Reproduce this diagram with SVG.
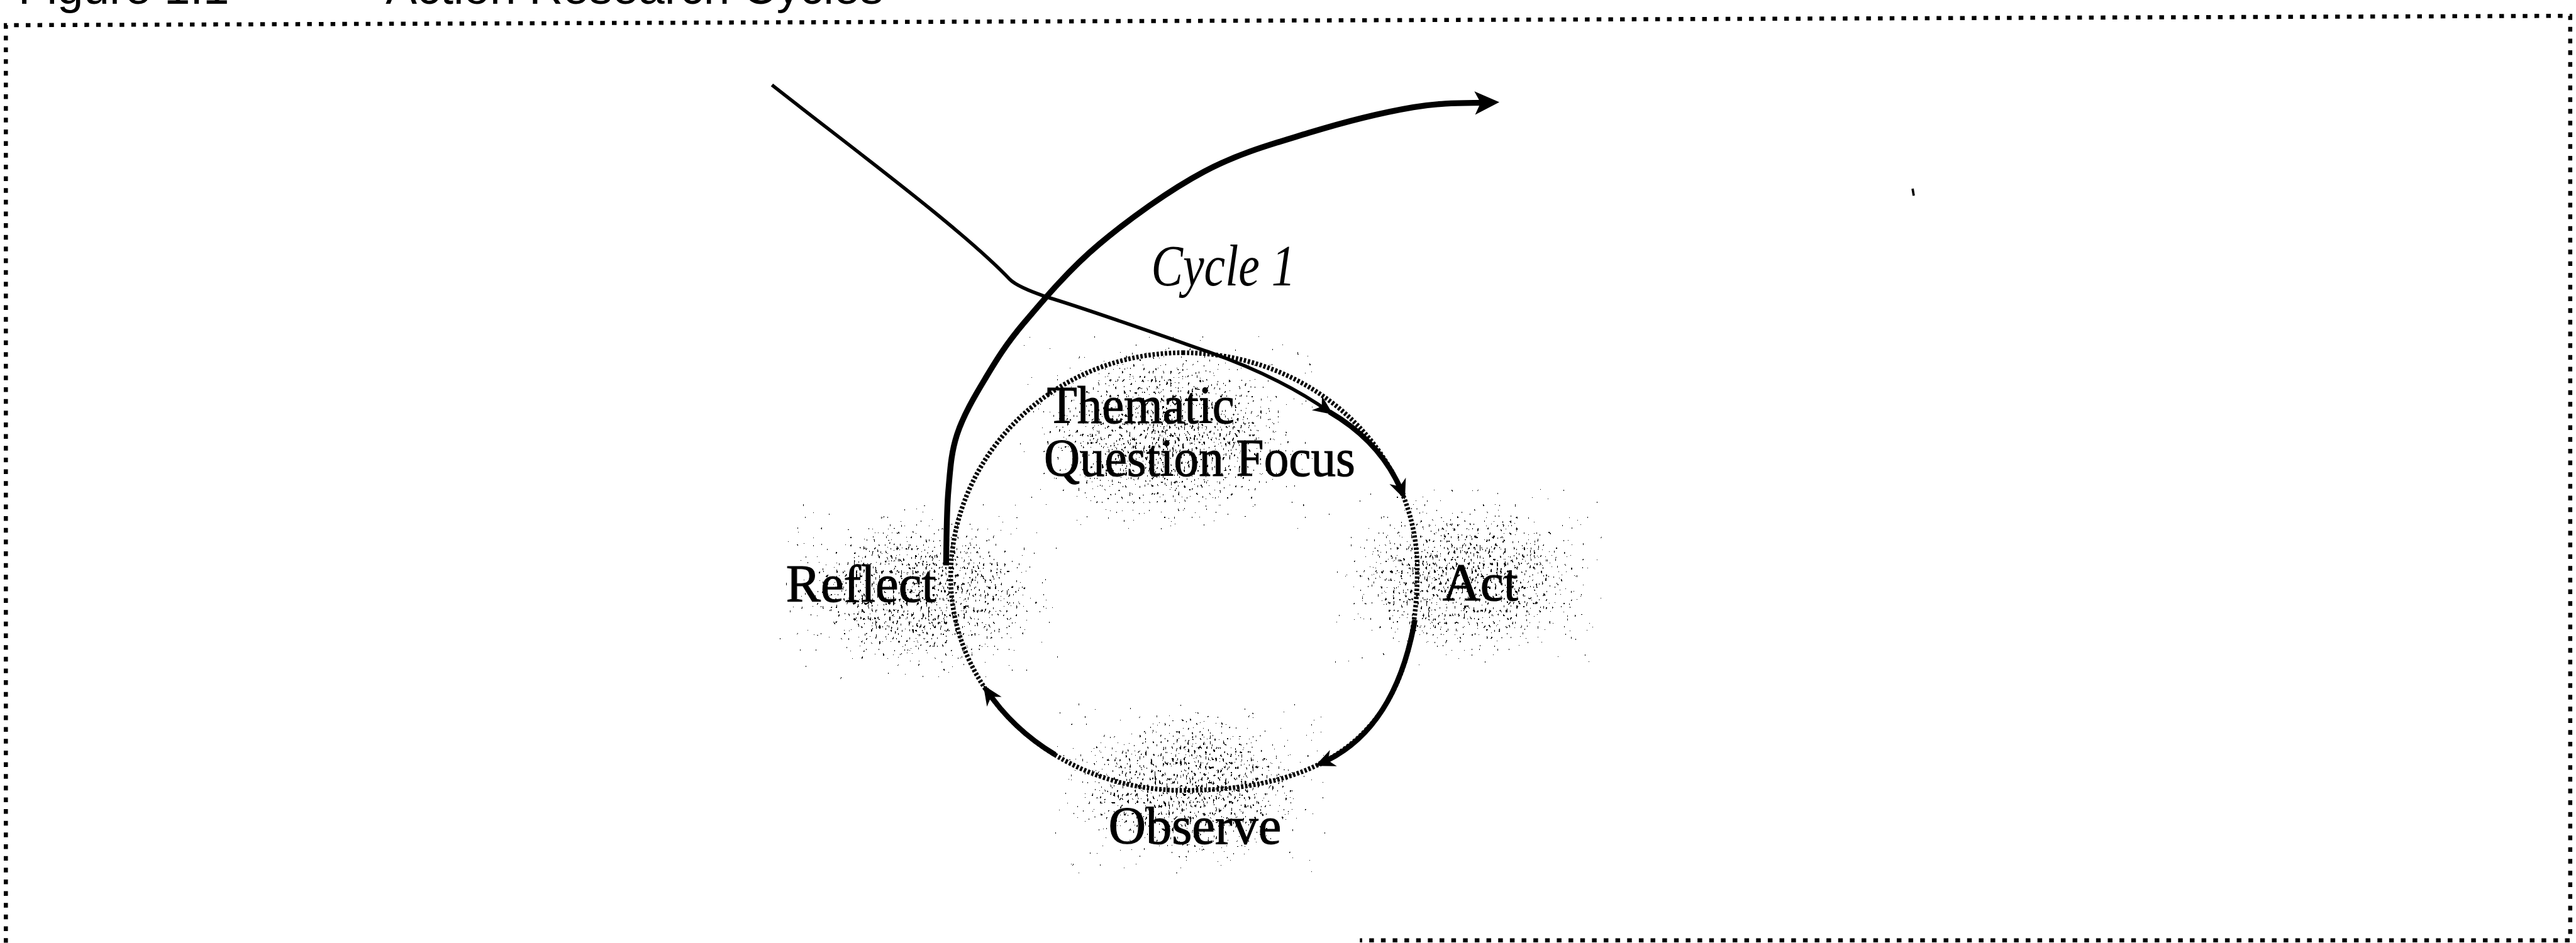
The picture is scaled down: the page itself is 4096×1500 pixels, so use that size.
<svg xmlns="http://www.w3.org/2000/svg" width="4096" height="1500" viewBox="0 0 4096 1500">
<style>
.lbl{font-family:"Liberation Serif","Times New Roman",serif;font-size:90px;fill:#000;stroke:#000;stroke-width:1.2}
.cyc{font-family:"Liberation Serif","Times New Roman",serif;font-style:italic;font-size:100px;fill:#000}
.hdr{font-family:"Liberation Sans",Arial,sans-serif;font-size:80px;fill:#000}
.frame{fill:none;stroke:#000;stroke-width:7;stroke-dasharray:8 12}
.dots{fill:none;stroke:#000;stroke-width:8;stroke-dasharray:4 3}
.thin{fill:none;stroke:#000;stroke-width:6}
.thick{fill:none;stroke:#000;stroke-width:9}
.exit{fill:none;stroke:#000;stroke-width:10}
.cloud{fill:url(#g);filter:url(#spk)}
</style>
<defs>
<radialGradient id="g">
<stop offset="0" stop-color="#000" stop-opacity="1"/>
<stop offset="0.5" stop-color="#000" stop-opacity="0.8"/>
<stop offset="1" stop-color="#000" stop-opacity="0"/>
</radialGradient>
<filter id="spk" x="0" y="0" width="1" height="1" color-interpolation-filters="sRGB">
<feTurbulence type="fractalNoise" baseFrequency="0.3 0.15" numOctaves="2" seed="11" result="n"/>
<feColorMatrix in="n" type="matrix" values="0 0 0 0 0 0 0 0 0 0 0 0 0 0 0 1 0 0 0 0" result="na"/>
<feComposite in="na" in2="SourceAlpha" operator="arithmetic" k1="0" k2="1" k3="0.18" k4="-0.32" result="s"/>
<feComponentTransfer in="s"><feFuncA type="discrete" tableValues="0 1"/></feComponentTransfer>
</filter>
<marker id="ah" markerUnits="userSpaceOnUse" viewBox="-40 -20 50 40" markerWidth="50" markerHeight="40" refX="0" refY="0" orient="auto">
<path d="M8,0 L-26,-15 L-16,0 L-26,15 Z" fill="#000"/>
</marker>
<marker id="ahBig" markerUnits="userSpaceOnUse" viewBox="-40 -30 70 60" markerWidth="70" markerHeight="60" refX="0" refY="0" orient="auto">
<path d="M18,0 L-24,-20 L-14,0 L-24,20 Z" fill="#000"/>
</marker>
</defs>
<rect x="0" y="0" width="4096" height="1500" fill="#fff"/>
<g transform="scale(0.932)">
<g id="title">
<text class="hdr" x="31" y="6">Figure 1.1</text>
<text class="hdr" x="658" y="6">Action Research Cycles</text>
</g>
<g id="frame">
<path class="frame" d="M10,1609 L10,43 L4385,27 L4385,1605 L2320,1605"/>
<path d="M3263,322 L3265,334" stroke="#000" stroke-width="4"/>
</g>
<g id="node-thematic-cloud">
<ellipse class="cloud" cx="1990" cy="740" rx="250" ry="165"/>
</g>
<g id="connectors">
<path id="cycle-circle" class="dots" d="M2018,602 C2238,602 2418,768.5 2418,972 C2418,1228 2290,1349 2018,1349 C1800,1349 1622,1185 1622,985 C1622,774 1800,602 2018,602 Z"/>
<path id="entry" class="thin" marker-end="url(#ah)" d="M1317,145 C1450,250 1640,390 1723,477 Q1736,490 1786,507 C1850,526 1960,565 2060,600 C2140,628 2210,662 2268,703"/>
<path id="to-act" class="thick" marker-end="url(#ah)" d="M2268,703 Q2359,756 2394,845"/>
<path id="to-observe" class="thick" marker-end="url(#ah)" d="M2414,1058 Q2380,1249 2251,1304"/>
<path id="to-reflect" class="thick" marker-end="url(#ah)" d="M1800,1288 Q1727,1244 1682,1176"/>
<path id="exit" class="exit" marker-end="url(#ahBig)" d="M1614,965 C1615,919.5 1614.8,873.5 1618,837 C1621.2,800.5 1622.5,772.8 1633,741 C1643.5,709.2 1661.8,677.8 1681,646 C1700.2,614.2 1715.7,588.2 1748,550 C1780.3,511.8 1824,459.8 1875,417 C1926,374.2 1994.5,324.7 2054,293 C2113.5,261.3 2172.5,245.3 2232,227 C2291.5,208.7 2359.7,191.7 2411,183 C2462.3,174.3 2505,176.2 2540,175"/>
</g>
<g id="node-thematic">
<text class="lbl" x="1786" y="722" textLength="320" lengthAdjust="spacingAndGlyphs">Thematic</text>
<text class="lbl" x="1781" y="812" textLength="531" lengthAdjust="spacingAndGlyphs">Question Focus</text>
</g>
<g id="node-act">
<ellipse class="cloud" cx="2500" cy="985" rx="235" ry="150"/>
<text class="lbl" x="2461" y="1025" textLength="129" lengthAdjust="spacingAndGlyphs">Act</text>
</g>
<g id="node-observe">
<ellipse class="cloud" cx="2030" cy="1345" rx="230" ry="145"/>
<text class="lbl" x="1891" y="1440" textLength="295" lengthAdjust="spacingAndGlyphs">Observe</text>
</g>
<g id="node-reflect">
<ellipse class="cloud" cx="1570" cy="1010" rx="240" ry="150"/>
<text class="lbl" x="1341" y="1027" textLength="256" lengthAdjust="spacingAndGlyphs">Reflect</text>
</g>
<g id="label-cycle1">
<text class="cyc" x="1964" y="487" textLength="246" lengthAdjust="spacingAndGlyphs">Cycle 1</text>
</g>
</g>
</svg>
